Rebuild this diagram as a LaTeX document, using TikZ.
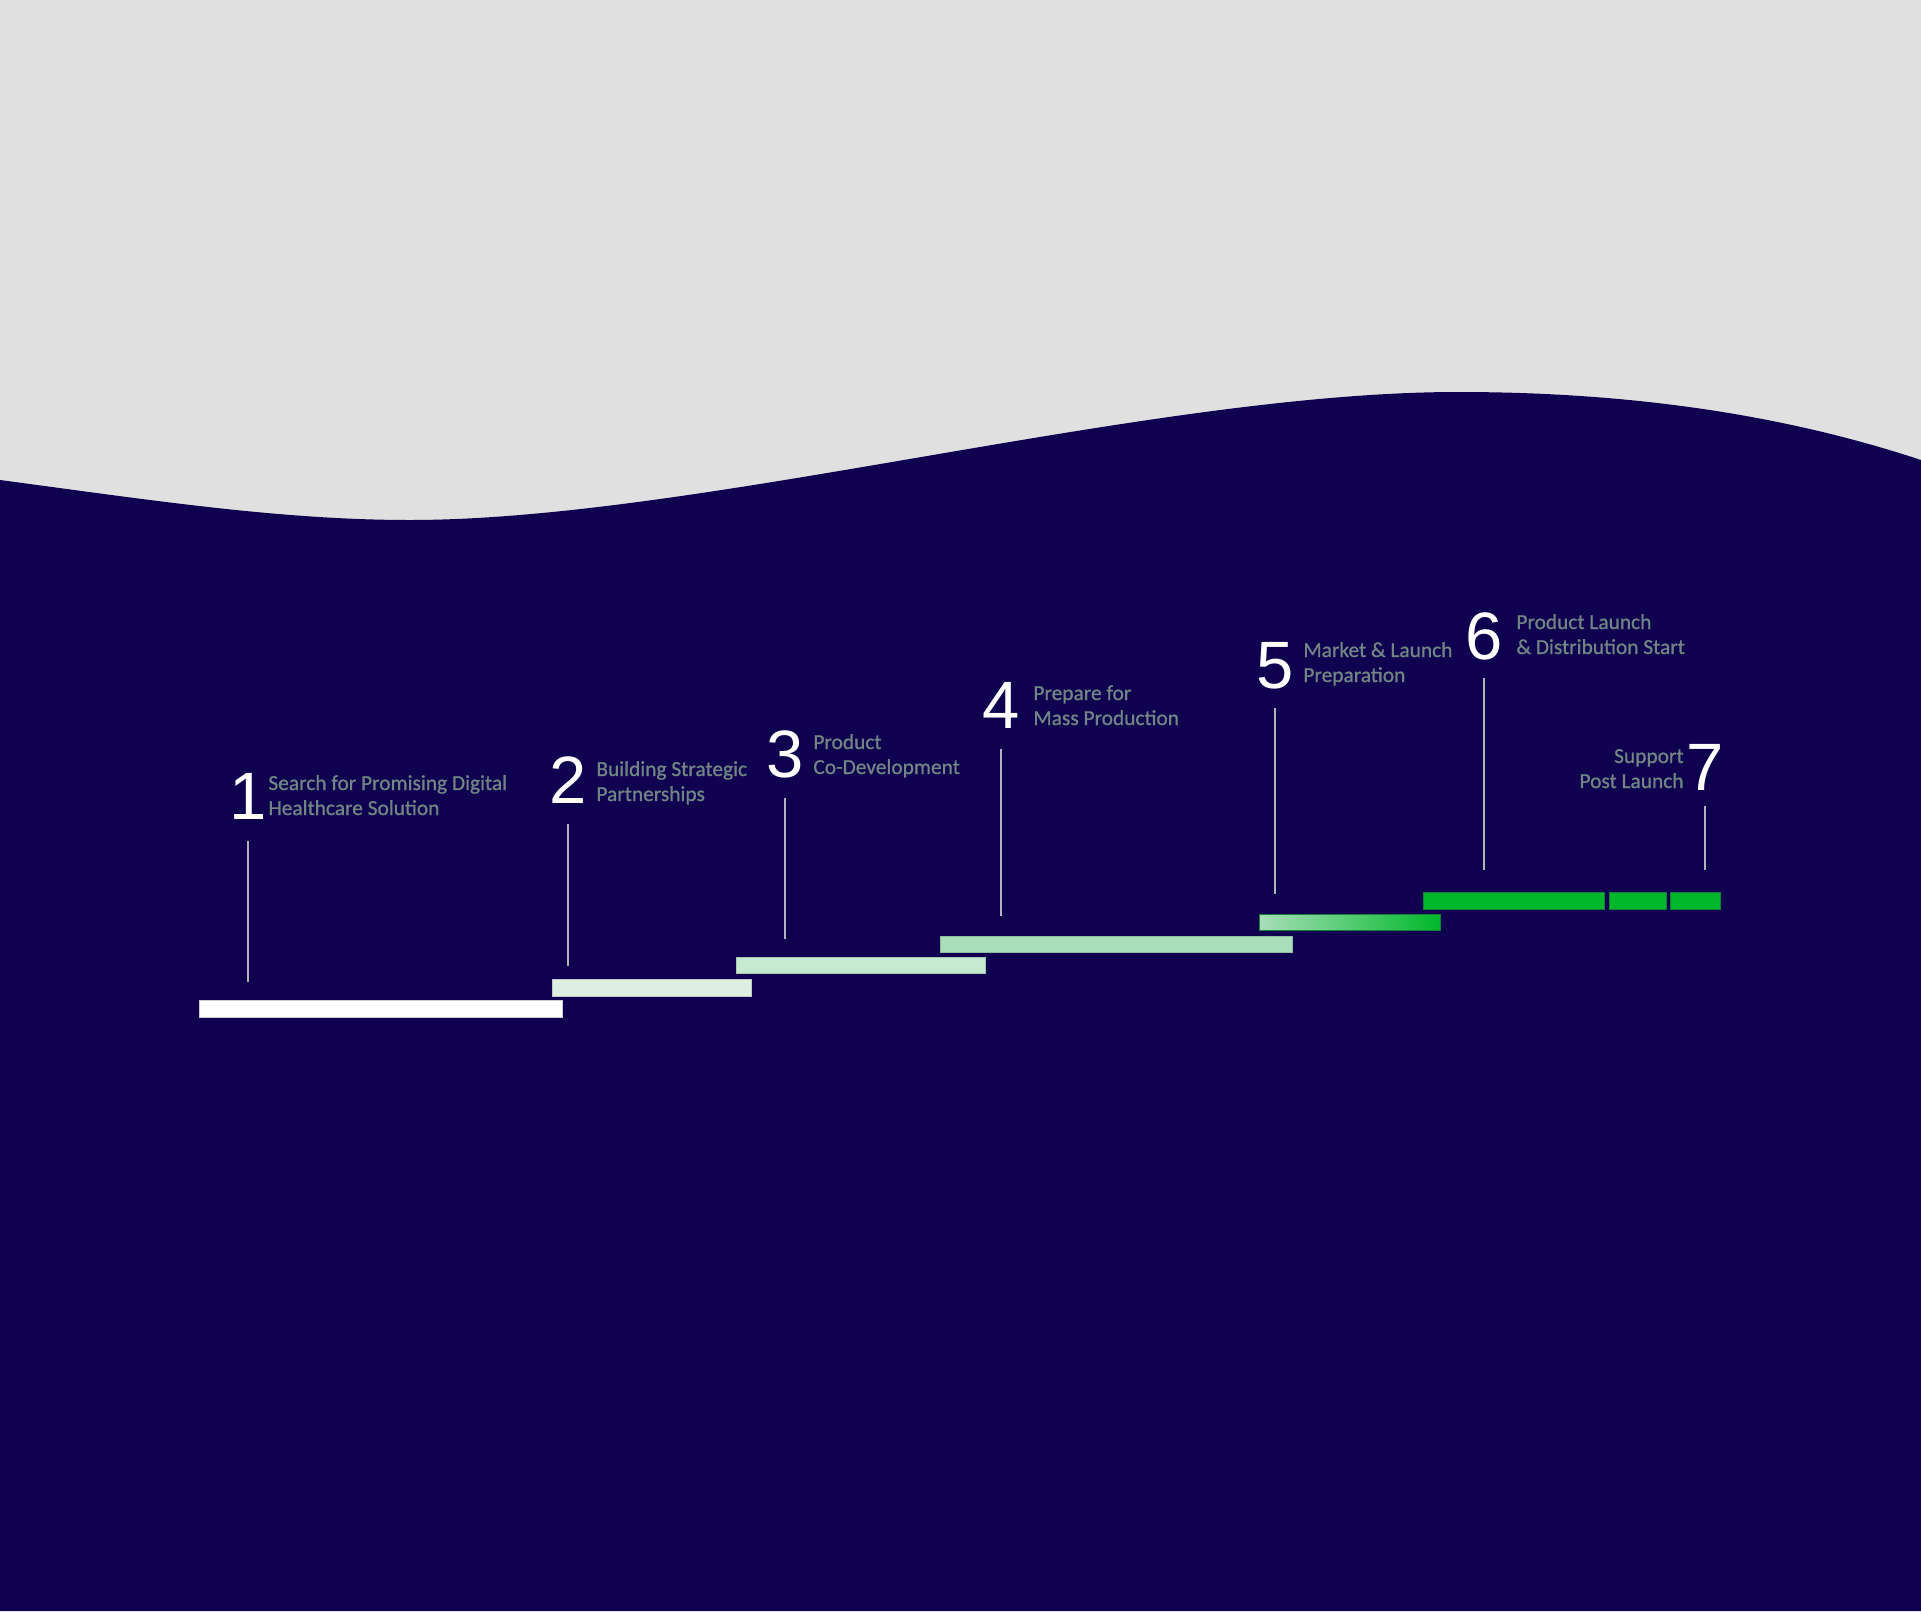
\documentclass[tikz,border=0pt]{standalone}
\usepackage{fontspec}
\setmainfont{Carlito}
\newfontfamily\labelfont[FakeBold=0.9]{Carlito}
\newfontfamily\digitfont{Liberation Sans}
\usepackage{tikz}

\definecolor{paper}{HTML}{E0E0E0}
\definecolor{night}{HTML}{0F0050}
\definecolor{stemgray}{HTML}{B4B4B8}
\definecolor{labelgray}{HTML}{718585}
\definecolor{mintone}{HTML}{DEEEE3}
\definecolor{minttwo}{HTML}{C6EAD0}
\definecolor{mintthree}{HTML}{A8DEB9}
\definecolor{springgreen}{HTML}{00C975}
\definecolor{launchgreen}{HTML}{00B82A}
\definecolor{greenedge}{HTML}{1A7F3C}

\begin{document}
\begin{tikzpicture}[x=0.5pt,y=-0.5pt]

	\tikzstyle stage lines=[line width=1pt, stemgray];
	\tikzstyle stage numbers=[inner sep=0pt, text=white, font=\digitfont\fontsize{33.5}{33.5}\selectfont];
	\tikzstyle stage labels=[inner sep=0pt, text=labelgray, align=left, font=\labelfont\fontsize{10.7}{12.5}\selectfont];
	\tikzstyle stage bars=[draw=#1!85!black, line width=0.4pt, fill=#1];

	\useasboundingbox (0,0) rectangle (1921,1611);
	\fill[paper] (0,0) rectangle (1921,1611);

	% wave
	\fill[night] (0,480) .. controls (150,500) and (280,520) .. (410,520)
		.. controls (700,520) and (1150,392) .. (1458,392)
		.. controls (1650,392) and (1800,420) .. (1921,460)
		-- (1921,1611) -- (0,1611) -- cycle;

	% bars
	\fill[white, draw=stemgray!70!white, line width=0.4pt] (199,1000) rectangle (562,1017);
	\draw[stage bars=mintone] (552,979) rectangle (751,996);
	\draw[stage bars=minttwo] (736,957) rectangle (985,973);
	\draw[stage bars=mintthree] (940,936) rectangle (1292,952);
	\shade[left color=mintthree, middle color=springgreen, right color=launchgreen] (1259,914) rectangle (1440,930);
	\draw[greenedge, line width=0.4pt] (1259,914) rectangle (1440,930);
		\foreach \a/\b in {1423/1604,1609/1666,1670/1720}
			\draw[stage bars=launchgreen, draw=greenedge] (\a,892) rectangle (\b,909);

	% stems and numbers
	\foreach \n/\x/\top/\bot/\base in {1/248/841/982/819,2/568/824/966/803,3/785/798/939/777,4/1001/749/916/728,5/1275/708/894/688,6/1484/678/870/659,7/1705/806/870/790}
	{
		\coordinate (t\n) at (\x,\top);
		\coordinate (s\n) at (\x,\bot);
		\draw[stage lines] (t\n) -- (s\n);
		\node[stage numbers, anchor=base] (n\n) at (\x,\base) {\n};
	}

	% labels (base = last line)
	\node[stage labels, anchor=base west] (l1) at (268,815) {Search for Promising Digital\\Healthcare Solution};
	\node[stage labels, anchor=base west] (l2) at (596,801) {Building Strategic\\Partnerships};
	\node[stage labels, anchor=base west] (l3) at (813,774) {Product\\Co-Development};
	\node[stage labels, anchor=base west] (l4) at (1033,725) {Prepare for\\Mass Production};
	\node[stage labels, anchor=base west] (l5) at (1303,682) {Market \& Launch\\Preparation};
	\node[stage labels, anchor=base west] (l6) at (1516,654) {Product Launch\\\& Distribution Start};
	\node[stage labels, anchor=base east, align=right] (l7) at (1684,788) {Support\\Post Launch};

\end{tikzpicture}
\end{document}
